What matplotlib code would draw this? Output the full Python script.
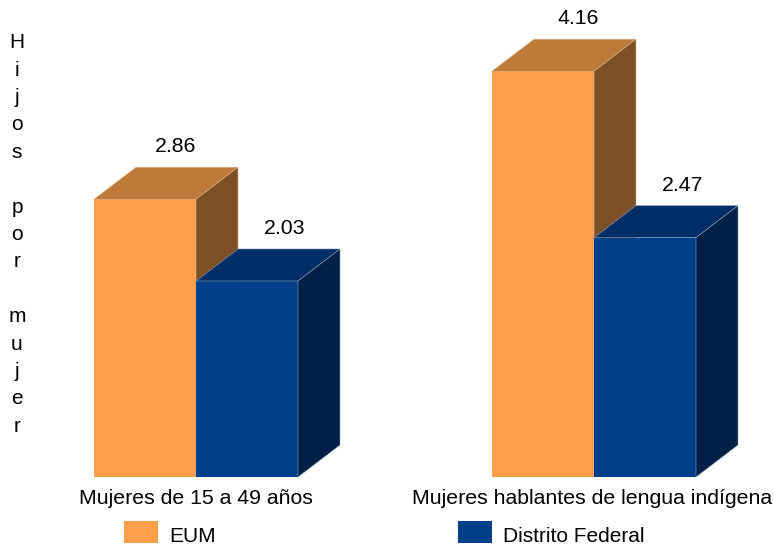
import matplotlib.pyplot as plt
from matplotlib.patches import Polygon, Rectangle

plt.rcParams['font.family'] = ['Liberation Sans', 'DejaVu Sans']

categories = ["Mujeres de 15 a 49 años", "Mujeres hablantes de lengua indígena"]
series_names = ["EUM", "Distrito Federal"]
eum = [2.86, 4.16]
df = [2.03, 2.47]
y_title = "Hijos por mujer"

orange = ("#FF9E4A", "#BE7A39", "#7E5025")
blue = ("#00408A", "#002F68", "#002048")

W, H = 774, 546
base_px = 477
px_per_x = 102
px_per_y = 98.5
y_min = 0.04

fig = plt.figure(figsize=(W / 100, H / 100), dpi=100)
ax = fig.add_axes([0, (H - base_px) / H, 1, base_px / H])
ax.set_xlim(0, W / px_per_x)
ax.set_ylim(y_min, y_min + base_px / px_per_y)
ax.axis("off")

# depth of the fake 3d boxes, in data units
dx = 42 / px_per_x
dy = 32 / px_per_y
bar_w = 1.0
group_x = [94 / px_per_x, 492 / px_per_x]


def box(x, v, cols, z, label_shift):
    ax.add_patch(Rectangle((x, y_min), bar_w, v - y_min, fc=cols[0], ec="none", zorder=z))
    edge = "#8C9DB5" if cols is blue else "#D9B48C"
    ax.add_patch(Polygon([(x, v), (x + dx, v + dy), (x + bar_w + dx, v + dy), (x + bar_w, v)],
                         fc=cols[1], ec=edge, lw=0.4, zorder=z))
    ax.add_patch(Polygon([(x + bar_w, y_min), (x + bar_w + dx, y_min + dy),
                          (x + bar_w + dx, v + dy), (x + bar_w, v)],
                         fc=cols[2], ec=edge, lw=0.4, zorder=z))
    ax.text(x + bar_w / 2 + dx / 2 + label_shift / px_per_x, v + dy + 11 / px_per_y, f"{v:.2f}",
            ha="center", va="bottom", fontsize=15.3, color="black", zorder=5, clip_on=False)


for i in range(2):
    box(group_x[i], eum[i], orange, 2, 10 + 4 * i)
    box(group_x[i] + bar_w, df[i], blue, 3, 17)

fig.text(196 / W, 1 - 498 / H, categories[0], ha="center", va="center", fontsize=15.3)
fig.text(592.5 / W, 1 - 498 / H, categories[1], ha="center", va="center", fontsize=15.3)

# y title is written one letter per line
fig.text(17 / W, 1 - 234.5 / H, "\n".join(y_title), ha="center", va="center", fontsize=15,
         linespacing=1.56)

# legend
fig.add_artist(Rectangle((124 / W, 1 - 543 / H), 34 / W, 22 / H, transform=fig.transFigure,
                         fc=orange[0], ec="none"))
fig.add_artist(Rectangle((458 / W, 1 - 543 / H), 34 / W, 22 / H, transform=fig.transFigure,
                         fc=blue[0], ec="none"))
fig.text(169 / W, 1 - 536 / H, series_names[0], ha="left", va="center", fontsize=15)
fig.text(503 / W, 1 - 536 / H, series_names[1], ha="left", va="center", fontsize=15)

fig.savefig("out.png", dpi=100)
